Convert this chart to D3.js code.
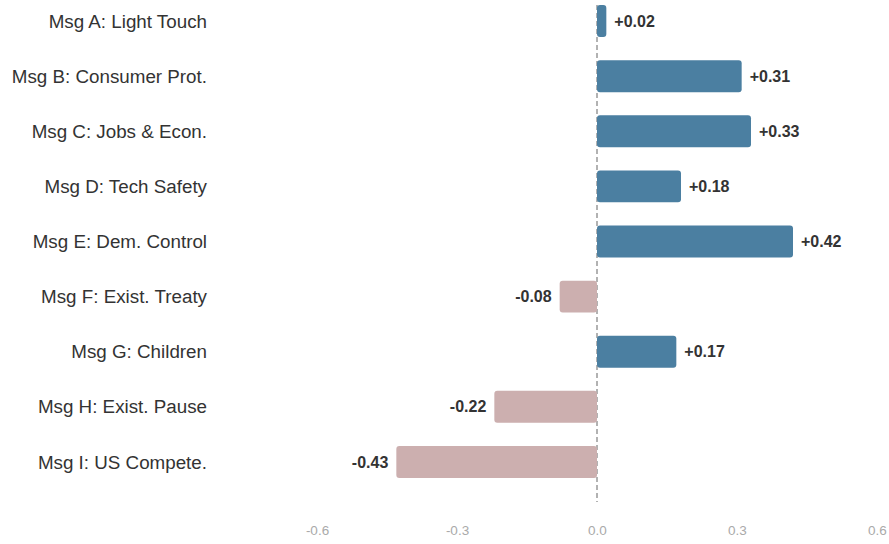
<!DOCTYPE html>
<html><head><meta charset="utf-8">
<script src="https://cdn.jsdelivr.net/npm/d3@7"></script>
<style>body{margin:0;background:#fff;} svg{display:block;}</style>
</head><body>
<svg id="chart" width="889" height="544"></svg>
<script>
const categories = ["Msg A: Light Touch","Msg B: Consumer Prot.","Msg C: Jobs & Econ.","Msg D: Tech Safety","Msg E: Dem. Control","Msg F: Exist. Treaty","Msg G: Children","Msg H: Exist. Pause","Msg I: US Compete."];
const values = [0.02,0.31,0.33,0.18,0.42,-0.08,0.17,-0.22,-0.43];
const tickValues = [-0.6,-0.3,0.0,0.3,0.6];
const tickLabels = ["-0.6","-0.3","0.0","0.3","0.6"];
const posColor = "#4b7fa1", negColor = "#ccafaf";

const svg = d3.select("#chart");
const x = d3.scaleLinear().domain([-0.6,0.6]).range([317,877]);
const y = d3.scaleBand().domain(categories).range([-6.5,489.5]).paddingInner(0.42).paddingOuter(0.21);

svg.append("line").attr("x1",x(0)).attr("x2",x(0)).attr("y1",5).attr("y2",502)
  .attr("stroke","#999").attr("stroke-width",1.5).attr("stroke-dasharray","5,3");

svg.selectAll("rect.bar").data(values).join("rect").attr("class","bar")
  .attr("x",d=>x(Math.min(0,d))).attr("width",d=>Math.abs(x(d)-x(0)))
  .attr("y",(d,i)=>y(categories[i])).attr("height",y.bandwidth())
  .attr("rx",3).attr("fill",d=>d>=0?posColor:negColor);

svg.selectAll("text.val").data(values).join("text").attr("class","val")
  .attr("x",d=>d>=0?x(d)+8:x(d)-8)
  .attr("y",(d,i)=>y(categories[i])+y.bandwidth()/2)
  .attr("dy","0.35em").attr("text-anchor",d=>d>=0?"start":"end")
  .attr("font-family","Liberation Sans, Arial, sans-serif").attr("font-size",16).attr("font-weight","bold").attr("fill","#333")
  .text(d=>(d>0?"+":"")+d.toFixed(2));

svg.selectAll("text.cat").data(categories).join("text").attr("class","cat")
  .attr("x",207).attr("y",d=>y(d)+y.bandwidth()/2).attr("dy","0.35em").attr("text-anchor","end")
  .attr("font-family","Liberation Sans, Arial, sans-serif").attr("font-size",18.8).attr("fill","#333").text(d=>d);

const axis = d3.axisBottom(x).tickValues(tickValues).tickFormat((d,i)=>tickLabels[i]).tickSize(0).tickPadding(0);
const g = svg.append("g").attr("transform","translate(0,525)").call(axis);
g.select(".domain").remove();
g.selectAll("text").attr("font-family","Liberation Sans, Arial, sans-serif").attr("font-size",13.5).attr("fill","#aaa");
</script>
</body></html>
